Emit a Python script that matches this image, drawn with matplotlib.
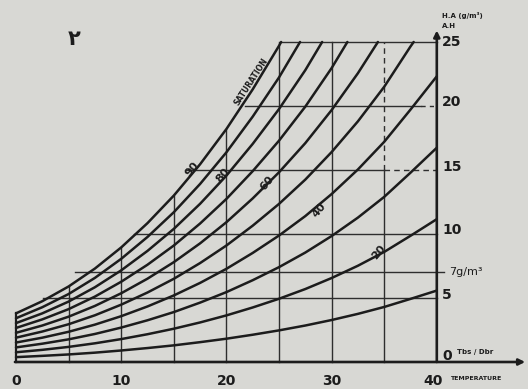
import matplotlib.pyplot as plt

# absolute humidity (g/m3) against dry bulb temperature, one curve per RH %
temps = [0, 2.5, 5, 7.5, 10, 12.5, 15, 17.5, 20, 22.5, 25, 27.5, 30, 32.5, 35, 37.5, 40]
rh_levels = [100, 90, 80, 70, 60, 50, 40, 30, 20, 10]

# temperature where a curve runs into the 25 g/m3 top line
top_reach = {100: 25.2, 90: 27.0, 80: 29.1, 70: 31.5, 60: 34.4, 50: 37.8}

curve_ah = {
    100: [3.80, 4.75, 5.90, 7.30, 8.95, 10.85, 13.00, 15.45, 18.20, 21.30, 24.70],
    90: [3.42, 4.28, 5.31, 6.57, 8.06, 9.77, 11.70, 13.91, 16.38, 19.17, 22.23],
    80: [3.04, 3.80, 4.72, 5.84, 7.16, 8.68, 10.40, 12.36, 14.56, 17.04, 19.76, 22.80],
    70: [2.66, 3.33, 4.13, 5.11, 6.27, 7.60, 9.10, 10.82, 12.74, 14.91, 17.29, 19.95,
         22.96],
    60: [2.28, 2.85, 3.54, 4.38, 5.37, 6.51, 7.80, 9.27, 10.92, 12.78, 14.82, 17.10,
         19.68, 22.56],
    50: [1.90, 2.38, 2.95, 3.65, 4.48, 5.43, 6.50, 7.73, 9.10, 10.65, 12.35, 14.25,
         16.40, 18.80, 21.50, 24.65],
    40: [1.52, 1.90, 2.36, 2.92, 3.58, 4.34, 5.20, 6.18, 7.28, 8.52, 9.88, 11.40,
         13.12, 15.04, 17.20, 19.72, 22.32],
    30: [1.14, 1.43, 1.77, 2.19, 2.69, 3.26, 3.90, 4.64, 5.46, 6.39, 7.41, 8.55,
         9.84, 11.28, 12.90, 14.79, 16.74],
    20: [0.76, 0.95, 1.18, 1.46, 1.79, 2.17, 2.60, 3.09, 3.64, 4.26, 4.94, 5.70,
         6.56, 7.52, 8.60, 9.86, 11.16],
    10: [0.38, 0.48, 0.59, 0.73, 0.90, 1.09, 1.30, 1.55, 1.82, 2.13, 2.47, 2.85,
         3.28, 3.76, 4.30, 4.93, 5.58],
}
AH_TOP = 25

# grid: vertical lines (temperature) and horizontal lines (humidity)
vgrid_x = [5, 10, 15, 20, 25, 30, 35]
vgrid_top = [5.9, 8.95, 13.0, 18.2, 25, 25, 25]
hgrid_y = [5, 7, 10, 15, 20, 25]
hgrid_start = [2.6, 5.6, 11.2, 16.2, 21.8, 25.2]

x_ticks = [0, 10, 20, 30, 40]
y_ticks = ['25', '20', '15', '10', '5']
y_tick_pos = [25, 20.3, 15.2, 10.3, 5.2]

curve_labels = ['90', '80', '60', '40', '20']
label_pos = [(16.7, 15.1), (19.7, 14.6), (23.9, 14.0), (28.8, 11.9), (34.5, 8.6)]

bg = '#d8d8d4'
ink = '#1c1c1c'
grid_c = '#2e2e2e'

fig = plt.figure(figsize=(5.28, 3.89), dpi=100, facecolor=bg)
ax = fig.add_axes([0, 0, 1, 1], facecolor=bg)
ax.set_xlim(-16 / 10.52, 512 / 10.52)
ax.set_ylim(-27 / 12.8, 362 / 12.8)
ax.axis('off')

# grid lines
for x, top in zip(vgrid_x, vgrid_top):
    if x == 35:
        ax.plot([x, x], [0, 15], color=grid_c, lw=1.0, zorder=1)
        ax.plot([x, x], [15, top], color=grid_c, lw=1.0, ls=(0, (4, 3)), zorder=1)
    else:
        ax.plot([x, x], [0, top], color=grid_c, lw=1.0, zorder=1)
for y, x0 in zip(hgrid_y, hgrid_start):
    if y == 20:
        ax.plot([x0, 38.5], [y, y], color=grid_c, lw=1.0, zorder=1)
        ax.plot([38.5, 40], [y, y], color=grid_c, lw=1.0, ls=(0, (3, 3)), zorder=1)
    elif y == 15:
        ax.plot([x0, 35], [y, y], color=grid_c, lw=1.0, zorder=1)
        ax.plot([35, 40], [y, y], color=grid_c, lw=1.0, ls=(0, (4, 3)), zorder=1)
    else:
        x1 = 40.7 if y == 7 else 40
        ax.plot([x0, x1], [y, y], color=grid_c, lw=1.0, zorder=1)

# humidity curves
for rh in rh_levels:
    vals = curve_ah[rh]
    xs = temps[:len(vals)]
    ys = list(vals)
    if rh in top_reach:
        xs = xs + [top_reach[rh]]
        ys = ys + [AH_TOP]
    ax.plot(xs, ys, color=ink, lw=1.8, solid_capstyle='round',
            solid_joinstyle='round', zorder=2)

# left edge and axes
ax.plot([0, 0], [0, curve_ah[100][0]], color=ink, lw=1.6, zorder=2)
ax.annotate('', xy=(48.4, 0), xytext=(-0.1, 0),
            arrowprops=dict(arrowstyle='-|>', color=ink, lw=1.9,
                            mutation_scale=9, shrinkA=0, shrinkB=0))
ax.annotate('', xy=(40, 25.9), xytext=(40, 0),
            arrowprops=dict(arrowstyle='-|>', color=ink, lw=1.9,
                            mutation_scale=9, shrinkA=0, shrinkB=0))

# tick labels
for t in x_ticks:
    xp = 39.6 if t == 40 else t
    ax.text(xp, -1.5, str(t), ha='center', va='center', fontsize=10,
            fontweight='bold', color=ink)
for lab, y in zip(y_ticks, y_tick_pos):
    ax.text(40.5, y, lab, ha='left', va='center', fontsize=10,
            fontweight='bold', color=ink)
ax.text(40.5, 0.5, '0', ha='left', va='center', fontsize=10,
        fontweight='bold', color=ink)
ax.text(41.9, 0.8, 'Tbs / Dbr', ha='left', va='center', fontsize=5,
        fontweight='bold', color=ink)
ax.text(41.2, 7.0, '7g/m³', ha='left', va='center', fontsize=8, color=ink)
ax.text(41.3, -1.3, 'TEMPERATURE', ha='left', va='center', fontsize=4.5,
        fontweight='bold', color=ink)
ax.text(40.5, 27.1, 'H.A (g/m³)', ha='left', va='center', fontsize=5,
        fontweight='bold', color=ink)
ax.text(40.5, 26.25, 'A.H', ha='left', va='center', fontsize=5,
        fontweight='bold', color=ink)

# curve labels
for lab, (x, y) in zip(curve_labels, label_pos):
    ax.text(x, y, lab, ha='center', va='center', fontsize=8, rotation=50,
            fontweight='bold', color=ink, zorder=3)

ax.text(22.4, 21.9, 'SATURATION', ha='center', va='center', fontsize=5.5,
        fontweight='bold', rotation=57, color=ink)
ax.text(5.5, 25.2, '٢', ha='center', va='center', fontsize=15,
        family='DejaVu Sans', fontweight='bold', color=ink)

fig.savefig('out.png', dpi=100, facecolor=bg)
